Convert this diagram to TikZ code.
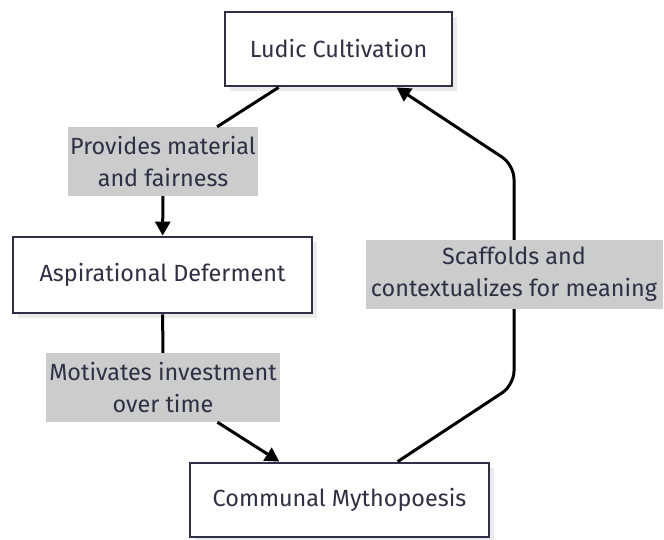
\documentclass[tikz,border=0pt]{standalone}
\usepackage{fontspec}
\setmainfont{Fira Sans}
\usepackage{xcolor}
\usetikzlibrary{arrows.meta, shadows}

\definecolor{inkcol}{HTML}{2F2F45}
\definecolor{lblgray}{HTML}{CCCCCC}

\begin{document}
\begin{tikzpicture}[
    x=1pt, y=-1pt,
    stage/.style={draw=inkcol, line width=2.8pt, fill=white, text=inkcol,
                  font=\fontsize{23.4}{28}\selectfont, align=center,
                  drop shadow={shadow xshift=5pt, shadow yshift=-5pt, fill=black!8, opacity=1}},
    lbl/.style={fill=lblgray, text=inkcol, inner sep=0pt, align=center,
                font=\fontsize{23.4}{32}\selectfont},
    arr/.style={-{Triangle[length=14pt, width=15pt]}, line width=3pt},
    seg/.style={line width=3pt}
]
\useasboundingbox (0,0) rectangle (664,539);

\node[stage, minimum width=227pt, minimum height=74pt] (lc) at (338.5,49) {Ludic Cultivation};
\node[stage, minimum width=299pt, minimum height=76pt] (ad) at (162.5,275) {Aspirational Deferment};
\node[stage, minimum width=299pt, minimum height=74pt] (cm) at (339.5,500) {Communal Mythopoesis};

\node[lbl, minimum width=190pt, minimum height=69pt] (l1) at (163,161.5) {Provides material\\and fairness};
\node[lbl, minimum width=234pt, minimum height=69pt] (l2) at (163,387.5) {Motivates investment\\over time};
\node[lbl, minimum width=297pt, minimum height=69pt] (l3) at (514,274.5) {Scaffolds and\\contextualizes for meaning};

\coordinate (bend1) at (514,385);
\coordinate (bend2) at (514,165);

\draw[seg] (lc) -- (l1);
\draw[arr] (l1) -- (ad);
\draw[seg] (ad) -- (l2);
\draw[arr] (l2) -- (cm);
\draw[seg, rounded corners=14pt] (cm) -- (bend1) -- (l3);
\draw[arr, rounded corners=14pt] (l3) -- (bend2) -- (lc);
\end{tikzpicture}
\end{document}
